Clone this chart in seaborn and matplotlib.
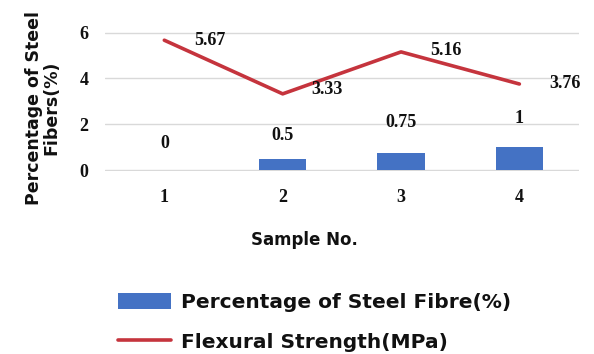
import pandas as pd
import matplotlib
matplotlib.use("Agg")
import matplotlib.pyplot as plt
import seaborn as sns

samples = [1, 2, 3, 4]
fibre_pct = [0, 0.5, 0.75, 1]
flexural = [5.67, 3.33, 5.16, 3.76]
yticks = [0, 2, 4, 6]

df = pd.DataFrame({"Sample": samples, "Fibre": fibre_pct, "Flexural": flexural})

sns.set_style("white")
bar_color = "#4472c4"
line_color = "#c5343d"
serif = {"family": "Liberation Serif", "weight": "bold"}

fig = plt.figure(figsize=(5.94, 3.54), dpi=100)
ax = fig.add_axes([0.177, 0.516, 0.797, 0.395])

sns.barplot(data=df, x="Sample", y="Fibre", native_scale=True, width=0.4,
            color=bar_color, saturation=1, linewidth=0, ax=ax,
            label="Percentage of Steel Fibre(%)", zorder=2)
sns.lineplot(data=df, x="Sample", y="Flexural", color=line_color, linewidth=2.6,
             ax=ax, label="Flexural Strength(MPa)", zorder=3)

ax.set_xlim(0.5, 4.5)
ax.set_ylim(-0.05, 6.05)
ax.set_yticks(yticks)
ax.set_xticks(samples)
ax.grid(axis="y", color="#d9d9d9", linewidth=1)
ax.set_axisbelow(True)
sns.despine(ax=ax, left=True, bottom=True)
ax.tick_params(axis="x", length=0, pad=13)
ax.tick_params(axis="y", length=0, pad=12)
for lab in ax.get_xticklabels() + ax.get_yticklabels():
    lab.set_fontfamily("Liberation Serif")
    lab.set_fontweight("bold")
    lab.set_fontsize(13)
    lab.set_color("#111111")

# data labels
bar_offsets = [19, 17, 22, 21]
for x, v, off in zip(samples, fibre_pct, bar_offsets):
    ax.annotate(f"{v:g}", (x, v), xytext=(0, off), textcoords="offset points",
                ha="center", va="center", fontsize=13, color="#111111", **serif)
line_offsets = [(33, 0), (32, 3), (32, 1), (33, 0)]
for x, v, off in zip(samples, flexural, line_offsets):
    ax.annotate(f"{v:.2f}", (x, v), xytext=off, textcoords="offset points",
                ha="center", va="center", fontsize=13, color="#111111", **serif)

ax.set_ylabel("")
ax.set_xlabel("Sample No.", fontsize=12, fontweight="bold", color="#111111")
ax.xaxis.set_label_coords(0.42, -0.43)
fig.text(0.072, 0.695, "Percentage of Steel\nFibers(%)", rotation=90, ha="center",
         va="center", fontsize=12.5, fontweight="bold", linespacing=1.0,
         color="#111111")

handles, labels = ax.get_legend_handles_labels()
ax.get_legend().remove()
order = [labels.index("Percentage of Steel Fibre(%)"), labels.index("Flexural Strength(MPa)")]
fig.legend([handles[i] for i in order], [labels[i] for i in order],
           loc="upper left", bbox_to_anchor=(0.189, 0.19),
           frameon=False, prop={"weight": "bold", "size": 14.5}, handlelength=2.6,
           handleheight=0.85, labelspacing=1.05, handletextpad=0.5,
           borderaxespad=0, borderpad=0.3, labelcolor="#111111")

fig.savefig("out.png", dpi=100)
